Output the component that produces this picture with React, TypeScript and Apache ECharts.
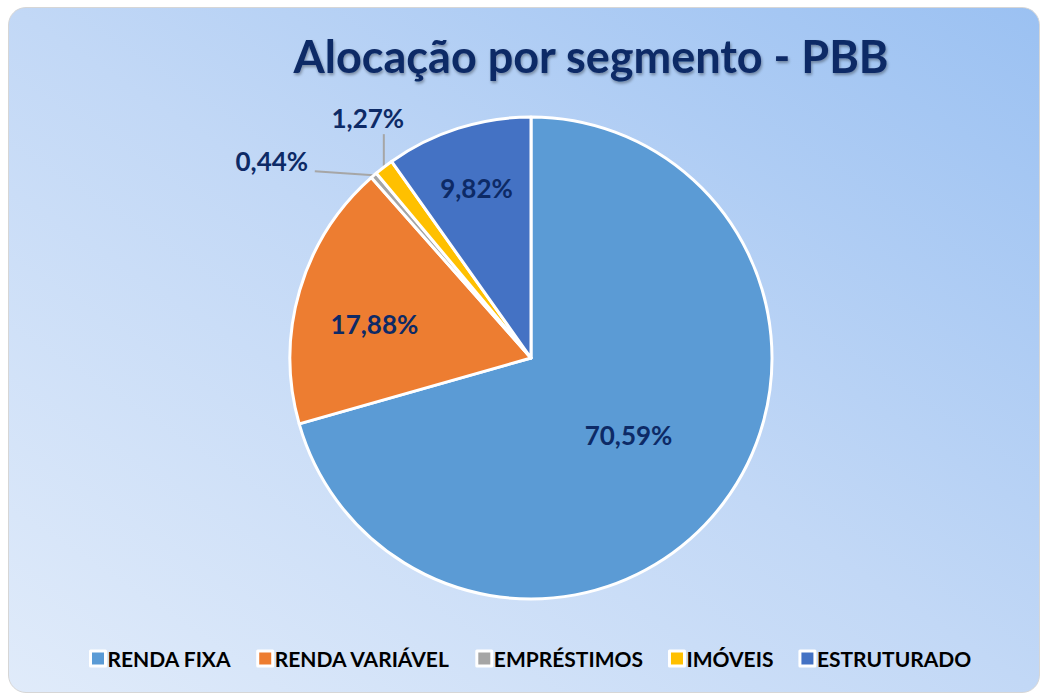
import React, { useEffect, useRef } from "react";
import * as echarts from "echarts";

const categories = ["RENDA FIXA", "RENDA VARIÁVEL", "EMPRÉSTIMOS", "IMÓVEIS", "ESTRUTURADO"];
const values = [70.59, 17.88, 0.44, 1.27, 9.82];
const colors = ["#5B9BD5", "#ED7D31", "#A5A5A5", "#FFC000", "#4472C4"];
const titleText = "Alocação por segmento - PBB";

const CX = 531;
const CY = 358;
const R = 241;

function edgePoint(i: number): number[] {
  const total = values.reduce((a, b) => a + b, 0);
  let cum = 0;
  for (let k = 0; k < i; k++) cum += values[k];
  const mid = cum + values[i] / 2;
  const th = ((90 - (mid / total) * 360) * Math.PI) / 180;
  return [CX + R * Math.cos(th), CY - R * Math.sin(th)];
}

export default function App() {
  const ref = useRef<HTMLDivElement>(null);
  useEffect(() => {
    document.body.style.margin = "0";
    const chart = echarts.init(ref.current!, null, { renderer: "svg" });
    const labelFont = "Lato";
    chart.setOption({
      animation: false,
      backgroundColor: "transparent",
      color: colors,
      title: {
        text: titleText,
        left: 586,
        textAlign: "center",
        top: 28,
        textStyle: {
          fontFamily: "Lato",
          fontWeight: "bold",
          fontSize: 45,
          color: "#0d2a66",
          textShadowColor: "rgba(0,0,0,0.35)",
          textShadowBlur: 3,
          textShadowOffsetX: 1,
          textShadowOffsetY: 2,
        },
      },
      legend: {
        bottom: 20,
        left: 84,
        itemWidth: 15,
        itemHeight: 15,
        itemGap: 25,
        icon: "rect",
        itemStyle: { borderColor: "#ffffff", borderWidth: 3 },
        textStyle: { fontFamily: "Lato", fontWeight: "bold", fontSize: 21, color: "#000", padding: [0, 0, 0, -3] },
        data: categories,
      },
      series: [
        {
          type: "pie",
          center: [CX, CY],
          radius: R,
          startAngle: 90,
          clockwise: true,
          avoidLabelOverlap: false,
          itemStyle: { borderColor: "#ffffff", borderWidth: 3 },
          label: {
            show: true,
            position: "outside",
            fontFamily: labelFont,
            fontWeight: "bold",
            fontSize: 26,
            color: "#0d2a66",
            formatter: (p: any) => `${p.value.toFixed(2).replace(".", ",")}%`,
          },
          labelLine: { show: true, lineStyle: { color: "#a6a6a6", width: 2 } },
          labelLayout: (p: any) => {
            const i = p.dataIndex;
            if (i === 0) return { dx: -1, dy: 3 };
            if (i === 1) return { dx: -38, dy: 1 };
            if (i === 4) return { dx: -17, dy: -52 };
            const e = edgePoint(i);
            if (i === 3) {
              return {
                x: e[0] - 16,
                y: e[1] - 49,
                align: "center",
                verticalAlign: "middle",
                labelLinePoints: [e, [e[0], e[1] - 17], [e[0], e[1] - 33]],
              };
            }
            return {
              x: e[0] - 102,
              y: e[1] - 14,
              align: "center",
              verticalAlign: "middle",
              labelLinePoints: [e, [e[0] - 30, e[1] - 2], [e[0] - 59, e[1] - 4]],
            };
          },
          data: categories.map((name, i) => {
            const inside = i === 0 || i === 1 || i === 4;
            return {
              name,
              value: values[i],
              label: inside ? { position: "inside" } : undefined,
              labelLine: inside ? { show: false } : undefined,
            };
          }),
        },
      ],
    });
    return () => chart.dispose();
  }, []);
  return (
    <div style={{ position: "relative", width: 1041, height: 694, overflow: "hidden" }}>
      <div
        style={{
          position: "absolute",
          left: 8,
          top: 7,
          width: 1030,
          height: 684,
          borderRadius: 18,
          border: "1px solid #d6d6d6",
          background: "linear-gradient(to top right, #e0ebfa 0%, #c2d8f6 50%, #9bc1f2 100%)",
        }}
      />
      <div ref={ref} style={{ position: "absolute", left: 0, top: 0, width: 1041, height: 694 }} />
    </div>
  );
}
